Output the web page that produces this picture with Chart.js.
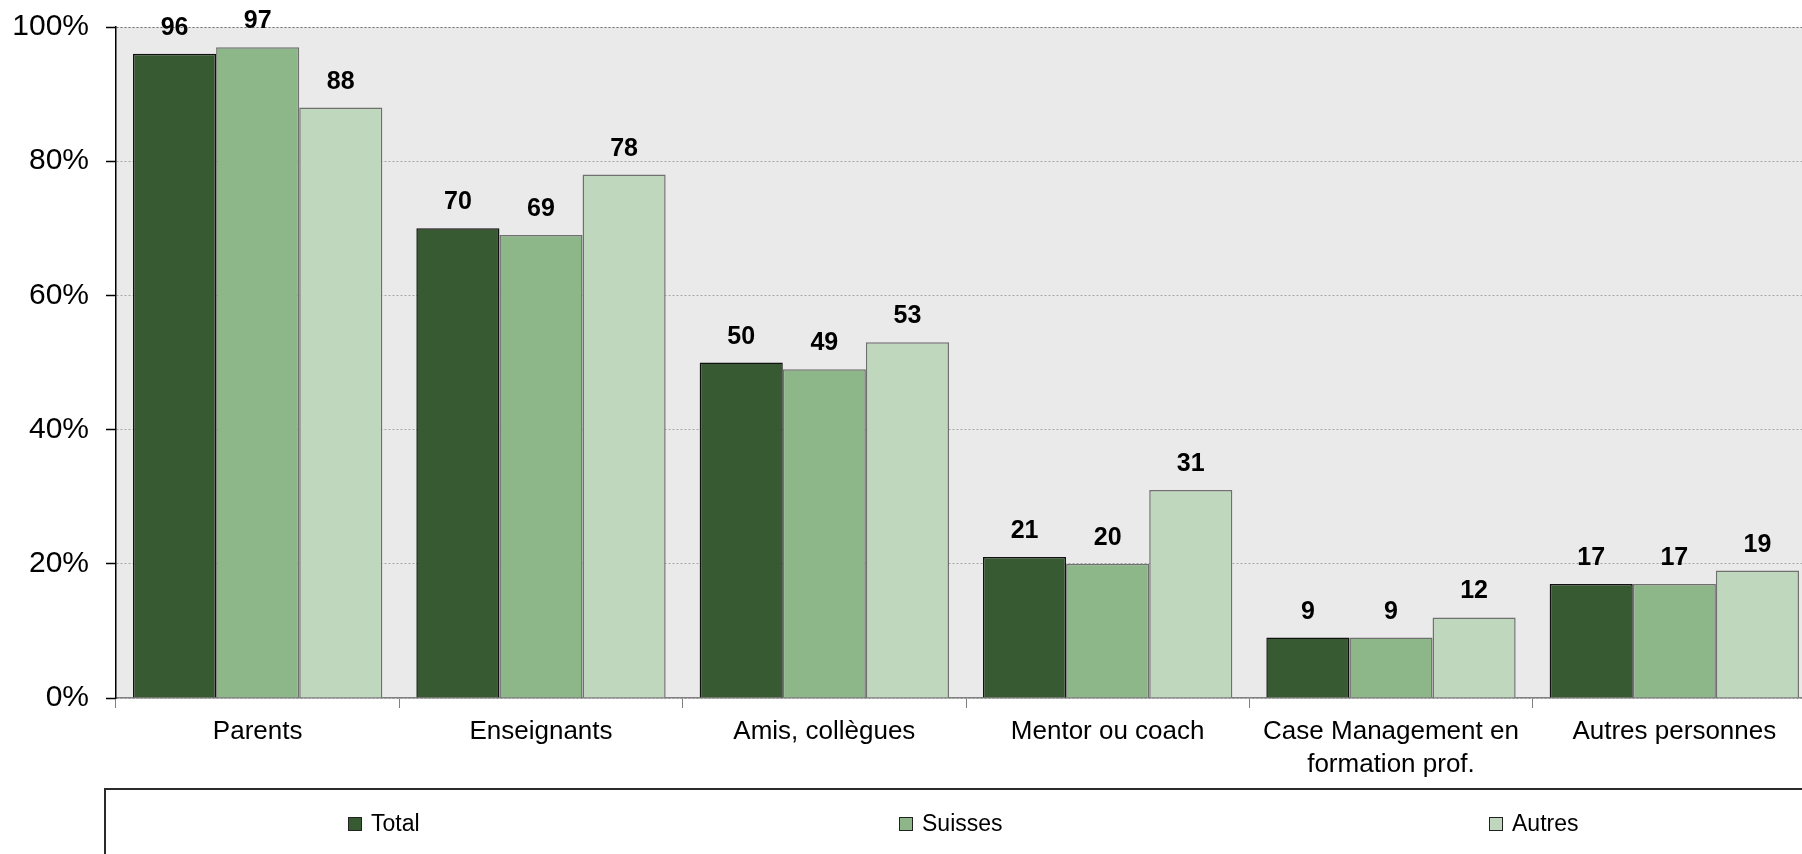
<!doctype html>
<html>
<head>
  <meta charset="utf-8" />
  <title>Personnes de soutien</title>
  <style>
    html,body{margin:0;padding:0;background:#fff;overflow:hidden}
    body{width:1802px;height:854px;position:relative;font-family:"Liberation Sans", Arial, sans-serif}
    #wrap{position:absolute;left:0;top:0;width:1830px;height:854px}
    .legend{position:absolute;left:104px;top:788px;width:1760px;height:120px;border:2px solid #2b2b2b;box-sizing:border-box}
    .item{position:absolute;top:22px;height:23px;font-size:23px;line-height:23px;color:#000;display:flex;align-items:center;white-space:nowrap}
    .sw{width:12px;height:12px;border:1px solid #222;margin-right:9px}
  </style>
</head>
<body>
  <div id="wrap"><canvas id="c" width="1830" height="854"></canvas></div>
  <div class="legend" id="legend"></div>

  <script src="https://cdn.jsdelivr.net/npm/chart.js@4.4.1/dist/chart.umd.min.js"></script>
  <script>
    const categories = ['Parents', 'Enseignants', 'Amis, collègues', 'Mentor ou coach', ['Case Management en', 'formation prof.'], 'Autres personnes'];
    const totalValues   = [96, 70, 50, 21, 9, 17];
    const suissesValues = [97, 69, 49, 20, 9, 17];
    const autresValues  = [88, 78, 53, 31, 12, 19];
    const yTicks = [0, 20, 40, 60, 80, 100];

    const FONT = '"Liberation Sans", Arial, sans-serif';
    const series = [
      { label: 'Total',   data: totalValues,   fill: '#385A33', line: '#111111', legendX: 242 },
      { label: 'Suisses', data: suissesValues, fill: '#8DB788', line: '#707070', legendX: 793 },
      { label: 'Autres',  data: autresValues,  fill: '#BFD7BC', line: '#707070', legendX: 1383 }
    ];

    // grey plot background
    const plotBg = {
      id: 'plotBg',
      beforeDraw(chart){
        const {ctx, chartArea:a} = chart;
        ctx.save();
        ctx.fillStyle = '#EAEAEA';
        ctx.fillRect(a.left, a.top, a.right - a.left, a.bottom - a.top);
        ctx.restore();
      }
    };

    // numbers above the bars
    const valueLabels = {
      id: 'valueLabels',
      afterDatasetsDraw(chart){
        const {ctx} = chart;
        ctx.save();
        ctx.font = 'bold 25px ' + FONT;
        ctx.fillStyle = '#000';
        ctx.textAlign = 'center';
        ctx.textBaseline = 'alphabetic';
        chart.data.datasets.forEach((ds, i) => {
          chart.getDatasetMeta(i).data.forEach((bar, j) => {
            ctx.fillText(String(ds.data[j]), bar.x, bar.y - 19);
          });
        });
        ctx.restore();
      }
    };

    new Chart(document.getElementById('c'), {
      type: 'bar',
      data: {
        labels: categories,
        datasets: series.map(s => ({
          label: s.label,
          data: s.data,
          backgroundColor: s.fill,
          borderColor: s.line,
          borderWidth: 1.5,
          categoryPercentage: 0.88,
          barPercentage: 1
        }))
      },
      options: {
        responsive: false,
        animation: false,
        layout: { padding: { top: 27, right: 14, left: 0, bottom: 0 } },
        plugins: { legend: { display: false }, tooltip: { enabled: false } },
        scales: {
          x: {
            offset: true,
            grid: { display: true, drawOnChartArea: false, offset: true, tickLength: 10, color: '#808080', tickColor: '#808080' },
            border: { color: '#808080', width: 1.5 },
            ticks: { color: '#000', font: { family: FONT, size: 26, lineHeight: 1.27 }, padding: 7, maxRotation: 0, autoSkip: false },
            afterFit(s){ s.height = 156; s.paddingLeft = 0; s.paddingRight = 0; }
          },
          y: {
            min: 0, max: 100,
            afterBuildTicks(s){ s.ticks = yTicks.map(v => ({ value: v })); },
            grid: {
              color: ctx => ctx.tick && ctx.tick.value === 100 ? '#6a6a6a' : '#a8a8a8',
              lineWidth: 1,
              tickLength: 10,
              tickColor: '#000',
              tickWidth: 1.5,
              tickBorderDash: []
            },
            border: { color: '#000', width: 1.5, dash: [2, 2] },
            ticks: { color: '#000', font: { family: FONT, size: 30 }, padding: 17, callback: v => v + '%' },
            afterFit(s){ s.width = 116; s.paddingTop = 0; s.paddingBottom = 0; }
          }
        }
      },
      plugins: [plotBg, valueLabels]
    });

    const legend = document.getElementById('legend');
    series.forEach(s => {
      const item = document.createElement('div');
      item.className = 'item';
      item.style.left = s.legendX + 'px';
      const sw = document.createElement('span');
      sw.className = 'sw';
      sw.style.background = s.fill;
      const t = document.createElement('span');
      t.textContent = s.label;
      item.appendChild(sw);
      item.appendChild(t);
      legend.appendChild(item);
    });
  </script>
</body>
</html>
